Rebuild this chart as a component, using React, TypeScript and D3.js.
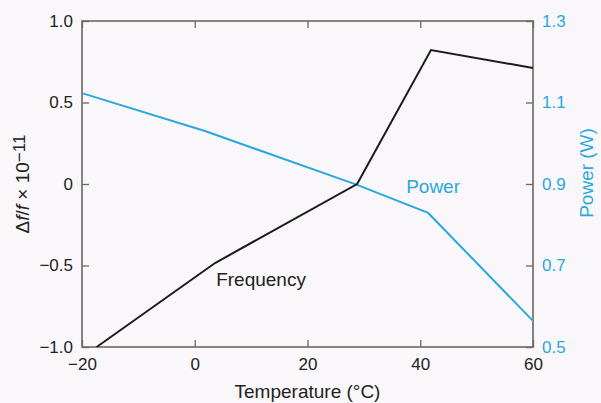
import { useEffect, useRef } from "react";
import * as d3 from "d3";

// Temperature (°C) vs fractional frequency change (x 1e-11)
const FREQ_TEMPS = [-17.4, 3.6, 28.8, 41.9, 60];
const FREQ_VALUES = [-1.0, -0.485, 0.0, 0.822, 0.712];

// Temperature (°C) vs power (W)
const POWER_TEMPS = [-20, 1.8, 28.8, 41.4, 60];
const POWER_VALUES = [1.123, 1.03, 0.898, 0.829, 0.564];

const X_TICKS = [-20, 0, 20, 40, 60];
const LEFT_TICKS = [-1.0, -0.5, 0, 0.5, 1.0];
const RIGHT_TICKS = [0.5, 0.7, 0.9, 1.1, 1.3];

const W = 601;
const H = 403;
const BLUE = "#2aa8dd";
const FRAME = "#6d6661";
const FONT = "'Liberation Sans', Arial, Helvetica, sans-serif";

export default function App() {
  const svgRef = useRef<SVGSVGElement>(null);

  useEffect(() => {
    if (!svgRef.current) return;
    const margin = { top: 21, right: 68, bottom: 56, left: 82 };
    const innerW = W - margin.left - margin.right;
    const innerH = H - margin.top - margin.bottom;

    const svg = d3.select(svgRef.current);
    svg.selectAll("*").remove();

    svg.append("rect").attr("width", W).attr("height", H).attr("fill", "#faf7fa");

    const g = svg.append("g").attr("transform", `translate(${margin.left},${margin.top})`);

    const x = d3.scaleLinear().domain([-20, 60]).range([0, innerW]);
    const yL = d3.scaleLinear().domain([-1, 1]).range([innerH, 0]);
    const yR = d3.scaleLinear().domain([0.5, 1.3]).range([innerH, 0]);

    const minus = (s: string) => s.replace("-", "\u2212");
    const tickLen = 7;

    const styleAxis = (ax: d3.Selection<SVGGElement, unknown, null, undefined>, color: string) => {
      ax.select(".domain").remove();
      ax.selectAll(".tick line").attr("stroke", FRAME).attr("stroke-width", 1.3);
      ax.selectAll(".tick text")
        .attr("fill", color)
        .style("font-family", FONT)
        .style("font-size", "17px");
    };

    // bottom axis
    g.append("g")
      .attr("transform", `translate(0,${innerH})`)
      .call(
        d3.axisBottom(x).tickValues(X_TICKS).tickSizeInner(-tickLen).tickSizeOuter(0).tickPadding(11)
          .tickFormat((d) => minus(String(d)))
      )
      .call((ax) => styleAxis(ax, "#222"));

    // top ticks only
    g.append("g")
      .call(d3.axisTop(x).tickValues(X_TICKS).tickSizeInner(-tickLen).tickSizeOuter(0).tickFormat(() => ""))
      .call((ax) => styleAxis(ax, "#222"));

    // left axis
    g.append("g")
      .call(
        d3.axisLeft(yL).tickValues(LEFT_TICKS).tickSizeInner(-tickLen).tickSizeOuter(0).tickPadding(9)
          .tickFormat((d) => (d === 0 ? "0" : minus(d3.format(".1f")(d as number))))
      )
      .call((ax) => styleAxis(ax, "#222"));

    // right axis
    g.append("g")
      .attr("transform", `translate(${innerW},0)`)
      .call(
        d3.axisRight(yR).tickValues(RIGHT_TICKS).tickSizeInner(-tickLen).tickSizeOuter(0).tickPadding(9)
          .tickFormat((d) => d3.format(".1f")(d as number))
      )
      .call((ax) => styleAxis(ax, BLUE));

    // frame
    g.append("rect")
      .attr("width", innerW)
      .attr("height", innerH)
      .attr("fill", "none")
      .attr("stroke", FRAME)
      .attr("stroke-width", 1.6);

    // power line
    const powerLine = d3.line<number>().x((_, i) => x(POWER_TEMPS[i])).y((d) => yR(d));
    g.append("path")
      .attr("d", powerLine(POWER_VALUES))
      .attr("fill", "none")
      .attr("stroke", BLUE)
      .attr("stroke-width", 2);

    // frequency line
    const freqLine = d3.line<number>().x((_, i) => x(FREQ_TEMPS[i])).y((d) => yL(d));
    g.append("path")
      .attr("d", freqLine(FREQ_VALUES))
      .attr("fill", "none")
      .attr("stroke", "#1b1b1b")
      .attr("stroke-width", 2);

    // series labels
    g.append("text")
      .attr("x", x(3.8))
      .attr("y", yL(-0.626))
      .attr("fill", "#222")
      .style("font-family", FONT)
      .style("font-size", "19px")
      .text("Frequency");
    g.append("text")
      .attr("x", x(37.5))
      .attr("y", yR(0.878))
      .attr("fill", BLUE)
      .style("font-family", FONT)
      .style("font-size", "19px")
      .text("Power");

    // x axis title
    svg.append("text")
      .attr("x", margin.left + innerW / 2)
      .attr("y", 398)
      .attr("text-anchor", "middle")
      .attr("fill", "#222")
      .style("font-family", FONT)
      .style("font-size", "19px")
      .text("Temperature (\u00b0C)");

    // left axis title
    const lt = svg.append("text")
      .attr("transform", `translate(29,${margin.top + innerH / 2}) rotate(-90)`)
      .attr("text-anchor", "middle")
      .attr("fill", "#222")
      .style("font-family", FONT)
      .style("font-size", "19px");
    lt.append("tspan").text("\u0394");
    lt.append("tspan").attr("font-style", "italic").text("f");
    lt.append("tspan").text("/");
    lt.append("tspan").attr("font-style", "italic").text("f");
    lt.append("tspan").text(" \u00d7 10");
    lt.append("tspan").attr("dy", -4).style("font-size", "17px").text("\u221211");

    // right axis title
    svg.append("text")
      .attr("transform", `translate(593,173) rotate(-90)`)
      .attr("text-anchor", "middle")
      .attr("fill", BLUE)
      .style("font-family", FONT)
      .style("font-size", "19px")
      .text("Power (W)");
  }, []);

  return (
    <svg
      ref={svgRef}
      width={W}
      height={H}
      style={{ position: "absolute", left: 0, top: 0, display: "block" }}
    />
  );
}
